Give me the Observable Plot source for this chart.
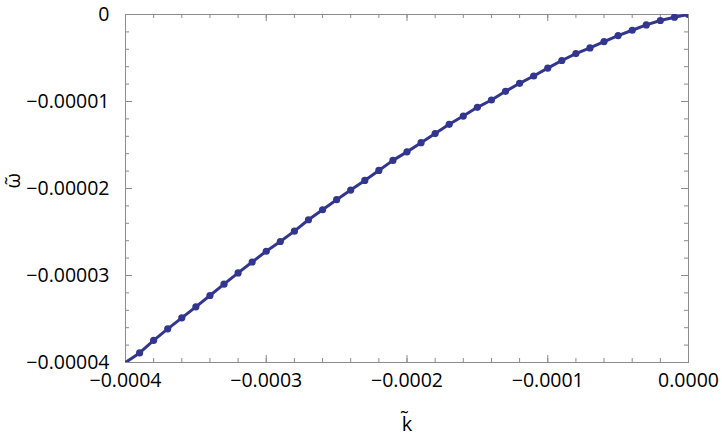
<!DOCTYPE html>
<html><head><meta charset="utf-8">
<script src="https://cdn.jsdelivr.net/npm/d3@7"></script>
<script src="https://cdn.jsdelivr.net/npm/@observablehq/plot@0.6"></script>
<style>body{margin:0;background:#fff}</style>
</head><body><div id="chart"></div>
<script>
// sampled points (k̃, ω̃)
const kValues = [-0.00039,-0.00038,-0.00037,-0.00036,-0.00035,-0.00034,-0.00033,-0.00032,-0.00031,-0.00030,
  -0.00029,-0.00028,-0.00027,-0.00026,-0.00025,-0.00024,-0.00023,-0.00022,-0.00021,-0.00020,
  -0.00019,-0.00018,-0.00017,-0.00016,-0.00015,-0.00014,-0.00013,-0.00012,-0.00011,-0.00010,
  -0.00009,-0.00008,-0.00007,-0.00006,-0.00005,-0.00004,-0.00003,-0.00002,-0.00001,0];
const omegaValues = [-3.890e-5,-3.745e-5,-3.613e-5,-3.487e-5,-3.360e-5,-3.230e-5,-3.100e-5,-2.970e-5,-2.845e-5,-2.721e-5,
  -2.609e-5,-2.490e-5,-2.359e-5,-2.244e-5,-2.129e-5,-2.018e-5,-1.907e-5,-1.792e-5,-1.677e-5,-1.579e-5,
  -1.473e-5,-1.369e-5,-1.262e-5,-1.167e-5,-1.067e-5,-0.983e-5,-0.883e-5,-0.791e-5,-0.707e-5,-0.616e-5,
  -0.529e-5,-0.449e-5,-0.384e-5,-0.311e-5,-0.242e-5,-0.181e-5,-0.120e-5,-0.069e-5,-0.031e-5,0];
// curve starts at the lower-left corner
const curveK = [-0.0004, ...kValues];
const curveOmega = [-0.00004, ...omegaValues];

const xTicks = [-0.0004,-0.0003,-0.0002,-0.0001,0];
const xTickLabels = ["\u22120.0004","\u22120.0003","\u22120.0002","\u22120.0001","0.0000"];
const yTicks = [0,-0.00001,-0.00002,-0.00003,-0.00004];
const yTickLabels = ["0","\u22120.00001","\u22120.00002","\u22120.00003","\u22120.00004"];
const xMinor = d3.range(0, 21).map(i => -0.0004 + i * 0.00002);
const yMinor = d3.range(0, 21).map(i => -0.00004 + i * 0.000002);
const xLabel = "k\u0303";
const yLabel = "\u03c9\u0303";

const W = 722, H = 439, mL = 125, mR = 34, mT = 14, mB = 77;
const iw = W - mL - mR, ih = H - mT - mB;
const pts = kValues.map((k, i) => ({k, w: omegaValues[i]}));
const curve = curveK.map((k, i) => ({k, w: curveOmega[i]}));
const blue = "#33368f", gray = "#8c8c8c";
const font = "'Open Sans', sans-serif";

const chart = Plot.plot({
  width: W, height: H,
  marginLeft: mL, marginRight: mR, marginTop: mT, marginBottom: mB,
  style: {fontFamily: font, fontSize: "19.5px", background: "#fff", color: "#000"},
  x: {domain: [-0.0004, 0], axis: null},
  y: {domain: [-0.00004, 0], axis: null},
  marks: [
    Plot.frame({stroke: gray, strokeWidth: 1}),
    // minor ticks
    Plot.tickX(xMinor, {x: d => d, insetTop: ih - 4, stroke: gray}),
    Plot.tickX(xMinor, {x: d => d, insetBottom: ih - 4, stroke: gray}),
    Plot.tickY(yMinor, {y: d => d, insetRight: iw - 4, stroke: gray}),
    Plot.tickY(yMinor, {y: d => d, insetLeft: iw - 4, stroke: gray}),
    // major ticks
    Plot.tickX(xTicks, {x: d => d, insetTop: ih - 7, stroke: gray}),
    Plot.tickX(xTicks, {x: d => d, insetBottom: ih - 7, stroke: gray}),
    Plot.tickY(yTicks, {y: d => d, insetRight: iw - 7, stroke: gray}),
    Plot.tickY(yTicks, {y: d => d, insetLeft: iw - 7, stroke: gray}),
    // tick labels
    Plot.axisX(xTicks, {anchor: "bottom", tickSize: 0, tickPadding: 11, fontSize: 19.5,
      tickFormat: d => xTickLabels[xTicks.indexOf(d)], label: null}),
    Plot.axisY(yTicks, {anchor: "left", tickSize: 0, tickPadding: 16, fontSize: 19.5,
      tickFormat: d => yTickLabels[yTicks.indexOf(d)], label: null}),
    // axis titles
    Plot.text([xLabel], {text: d => d, frameAnchor: "bottom", dy: 68, lineAnchor: "bottom", fontSize: 20}),
    Plot.text([yLabel], {text: d => d, frameAnchor: "left", dx: -112, rotate: -90, fontSize: 20}),
    // data
    Plot.line(curve, {x: "k", y: "w", stroke: blue, strokeWidth: 3, clip: true}),
    Plot.dot(pts, {x: "k", y: "w", r: 3.6, fill: blue, stroke: "none", clip: true})
  ]
});
document.getElementById("chart").appendChild(chart);
</script>
</body></html>
